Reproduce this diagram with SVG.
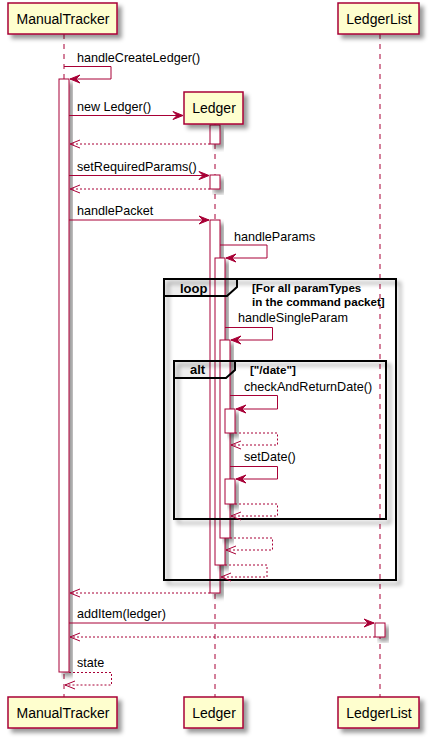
<svg xmlns="http://www.w3.org/2000/svg" width="429" height="739" viewBox="0 0 429 739">
<defs>
<filter id="sh" x="-20%" y="-20%" width="160%" height="160%">
<feGaussianBlur in="SourceAlpha" stdDeviation="2"/>
<feColorMatrix type="matrix" values="0 0 0 0 0  0 0 0 0 0  0 0 0 0 0  0 0 0 0.4 0"/>
<feOffset dx="4" dy="4" result="s"/>
<feMerge><feMergeNode in="s"/><feMergeNode in="SourceGraphic"/></feMerge>
</filter>
</defs>
<style>
.part{fill:#FEFECE;stroke:#A80036;stroke-width:1.5;filter:url(#sh)}
.pt{font-family:"Liberation Sans",Arial,sans-serif;font-size:14px;fill:#000;text-anchor:middle}
.life{stroke:#A80036;stroke-width:1;stroke-dasharray:5,5;fill:none}
.act{fill:#FFFFFF;stroke:#A80036;stroke-width:1;filter:url(#sh)}
.msg{stroke:#A80036;stroke-width:1;fill:none}
.ret{stroke:#A80036;stroke-width:1;fill:none;stroke-dasharray:2,2}
.head{fill:#A80036;stroke:#A80036;stroke-width:1}
.ohead{fill:none;stroke:#A80036;stroke-width:1}
.ml{font-family:"Liberation Sans",Arial,sans-serif;font-size:12.6px;fill:#000}
.frame{fill:none;stroke:#000;stroke-width:2;filter:url(#sh)}
.tab{fill:#EEEEEE;stroke:none}
.tabo{fill:none;stroke:#000;stroke-width:2}
.fk{font-family:"Liberation Sans",Arial,sans-serif;font-size:13px;font-weight:bold;fill:#000}
.fc{font-family:"Liberation Sans",Arial,sans-serif;font-size:11.6px;font-weight:bold;fill:#000}
</style>
<rect x="0" y="0" width="429" height="739" fill="#FFFFFF"/>

<g id="frame-bg">
<path class="tab" d="M164,279 L237,279 L237,287 L227,296 L164,296 Z"/>
<path class="tab" d="M174,361 L235,361 L235,370 L226,378 L174,378 Z"/>
</g>

<g id="lifelines">
<line class="life" x1="64" y1="34" x2="64" y2="697"/>
<line class="life" x1="215" y1="124" x2="215" y2="697"/>
<line class="life" x1="380" y1="34" x2="380" y2="697"/>
</g>

<g id="activations">
<rect class="act" x="59" y="79" width="10" height="593"/>
<rect class="act" x="210" y="125" width="10" height="19"/>
<rect class="act" x="210" y="175" width="10" height="14"/>
<rect class="act" x="210" y="220" width="10" height="373"/>
<rect class="act" x="215" y="258" width="10" height="307"/>
<rect class="act" x="220" y="340" width="10" height="198"/>
<rect class="act" x="225" y="409" width="10" height="24"/>
<rect class="act" x="225" y="479" width="10" height="25"/>
<rect class="act" x="375" y="623" width="10" height="14"/>
</g>

<g id="frames">
<rect class="frame" x="164" y="279" width="232" height="301"/>
<path class="tabo" d="M164,296 L227,296 L237,287 L237,279"/>
<text class="fk" x="180" y="293">loop</text>
<text class="fc" x="252" y="292">[For all paramTypes</text>
<text class="fc" x="252" y="306">in the command packet]</text>
<rect class="frame" x="174" y="361" width="212" height="158"/>
<path class="tabo" d="M174,378 L226,378 L235,370 L235,361"/>
<text class="fk" x="190" y="374">alt</text>
<text class="fc" x="250" y="374">["/date"]</text>
</g>

<g id="participant-ManualTracker">
<rect class="part" x="8" y="3" width="109" height="31"/>
<text class="pt" x="63" y="24">ManualTracker</text>
<rect class="part" x="8" y="697" width="109" height="31"/>
<text class="pt" x="63" y="718">ManualTracker</text>
</g>
<g id="participant-Ledger">
<rect class="part" x="184" y="92" width="59" height="32"/>
<text class="pt" x="214" y="113">Ledger</text>
<rect class="part" x="184" y="697" width="59" height="31"/>
<text class="pt" x="214" y="718">Ledger</text>
</g>
<g id="participant-LedgerList">
<rect class="part" x="338" y="3" width="81" height="31"/>
<text class="pt" x="379" y="24">LedgerList</text>
<rect class="part" x="338" y="697" width="81" height="31"/>
<text class="pt" x="379" y="718">LedgerList</text>
</g>

<g id="connectors">
<polyline class="msg" points="64,66.5 111,66.5 111,79 70,79"/>
<polygon class="head" points="70,79 80,75 76,79 80,83"/>
<text class="ml" x="77" y="62">handleCreateLedger()</text>
<line class="msg" x1="69" y1="115.5" x2="183" y2="115.5"/>
<polygon class="head" points="183,115.5 173,111.5 177,115.5 173,119.5"/>
<text class="ml" x="77" y="111">new Ledger()</text>
<line class="ret" x1="210" y1="144" x2="70" y2="144"/>
<polyline class="ohead" points="80,140 70,144 80,148"/>
<line class="msg" x1="69" y1="175.5" x2="209" y2="175.5"/>
<polygon class="head" points="209,175.5 199,171.5 203,175.5 199,179.5"/>
<text class="ml" x="77" y="171">setRequiredParams()</text>
<line class="ret" x1="210" y1="189" x2="70" y2="189"/>
<polyline class="ohead" points="80,185 70,189 80,193"/>
<line class="msg" x1="69" y1="220" x2="209" y2="220"/>
<polygon class="head" points="209,220 199,216 203,220 199,224"/>
<text class="ml" x="77" y="215">handlePacket</text>
<polyline class="msg" points="220,245 267,245 267,258 226,258"/>
<polygon class="head" points="226,258 236,254 232,258 236,262"/>
<text class="ml" x="234" y="241">handleParams</text>
<polyline class="msg" points="225,327.5 272.5,327.5 272.5,340 231,340"/>
<polygon class="head" points="231,340 241,336 237,340 241,344"/>
<text class="ml" x="238" y="322">handleSingleParam</text>
<polyline class="msg" points="230,395.5 277.5,395.5 277.5,409 236,409"/>
<polygon class="head" points="236,409 246,405 242,409 246,413"/>
<text class="ml" x="244" y="391">checkAndReturnDate()</text>
<polyline class="ret" points="235,433 277.5,433 277.5,445 231,445"/>
<polyline class="ohead" points="241,441 231,445 241,449"/>
<polyline class="msg" points="230,466.5 277.5,466.5 277.5,479 236,479"/>
<polygon class="head" points="236,479 246,475 242,479 246,483"/>
<text class="ml" x="244" y="461">setDate()</text>
<polyline class="ret" points="235,504 277.5,504 277.5,516 231,516"/>
<polyline class="ohead" points="241,512 231,516 241,520"/>
<polyline class="ret" points="230,538 272.5,538 272.5,550 226,550"/>
<polyline class="ohead" points="236,546 226,550 236,554"/>
<polyline class="ret" points="225,565 267,565 267,577 221,577"/>
<polyline class="ohead" points="231,573 221,577 231,581"/>
<line class="ret" x1="210" y1="593" x2="70" y2="593"/>
<polyline class="ohead" points="80,589 70,593 80,597"/>
<line class="msg" x1="69" y1="623" x2="374" y2="623"/>
<polygon class="head" points="374,623 364,619 368,623 364,627"/>
<text class="ml" x="77" y="618">addItem(ledger)</text>
<line class="ret" x1="375" y1="637" x2="70" y2="637"/>
<polyline class="ohead" points="80,633 70,637 80,641"/>
<polyline class="ret" points="69,672.5 111.5,672.5 111.5,685 65,685"/>
<polyline class="ohead" points="75,681 65,685 75,689"/>
<text class="ml" x="77" y="667">state</text>
</g>
</svg>
